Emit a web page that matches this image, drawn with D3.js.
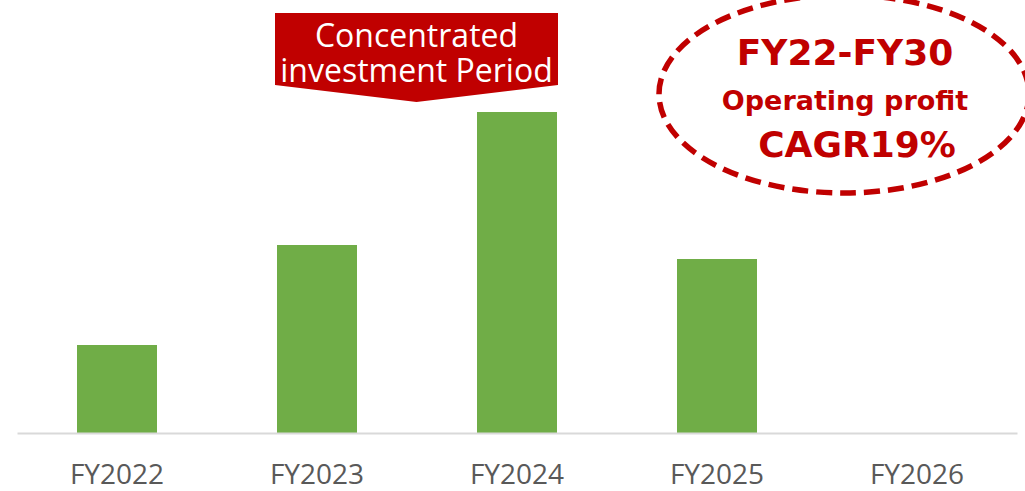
<!DOCTYPE html>
<html>
<head>
<meta charset="utf-8">
<script src="https://cdn.jsdelivr.net/npm/d3@7"></script>
<style>
  html, body { margin: 0; padding: 0; background: #fff; }
  svg { display: block; }
</style>
</head>
<body>
<svg id="chart"></svg>
<script>
// operating profit by fiscal year (relative)
const categories = ["FY2022", "FY2023", "FY2024", "FY2025", "FY2026"]
const profit = [8.8, 18.8, 32.1, 17.4, null]
const bannerLines = ["Concentrated", "investment Period"]
const calloutLines = ["FY22-FY30", "Operating profit", "CAGR19%"]

const width = 1025
const height = 491
const red = "#c00000"

const svg = d3.select("#chart")
  .attr("width", width)
  .attr("height", height)

const x = d3.scaleBand()
  .domain(categories)
  .range([17, 1017])
  .paddingInner(0.6)
  .paddingOuter(0.3)

const y = d3.scaleLinear()
  .domain([0, 43.3])
  .range([433, 0])

// bars
svg.append("g")
  .selectAll("rect")
  .data(categories.map((c, i) => ({ cat: c, v: profit[i] })).filter(d => d.v != null))
  .join("rect")
  .attr("x", d => x(d.cat))
  .attr("y", d => y(d.v))
  .attr("width", x.bandwidth())
  .attr("height", d => y(0) - y(d.v))
  .attr("fill", "#70ad47")

// category axis
const xAxis = svg.append("g")
  .attr("transform", `translate(0,${y(0)})`)
  .call(d3.axisBottom(x).tickSize(0))
xAxis.select(".domain").attr("stroke", "#d9d9d9").attr("stroke-width", 2)
xAxis.selectAll("text")
  .attr("y", 51)
  .attr("dy", null)
  .attr("font-family", "'Open Sans', sans-serif")
  .attr("font-size", 28)
  .attr("fill", "#595959")

// banner arrow over FY2023/FY2024
const bx0 = x("FY2023") - 2, bx1 = x("FY2024") + x.bandwidth() + 1
const bmid = (bx0 + bx1) / 2
svg.append("path")
  .attr("d", d3.line()([[bx0, 13], [bx1, 13], [bx1, 85], [bmid, 102], [bx0, 85]]) + "Z")
  .attr("fill", red)

svg.append("text")
  .attr("text-anchor", "middle")
  .attr("font-family", "'Open Sans', sans-serif")
  .attr("font-size", 32)
  .attr("fill", "#fff")
  .selectAll("tspan")
  .data(bannerLines)
  .join("tspan")
  .attr("x", bmid)
  .attr("y", (d, i) => 47 + i * 35)
  .text(d => d)

// dashed ellipse callout
svg.append("ellipse")
  .attr("cx", 844)
  .attr("cy", 94)
  .attr("rx", 185)
  .attr("ry", 99)
  .attr("fill", "none")
  .attr("stroke", red)
  .attr("stroke-width", 5.5)
  .attr("stroke-dasharray", "16 8")

const calloutStyle = [
  { x: 845, y: 65, size: 36 },
  { x: 845, y: 110, size: 27 },
  { x: 857, y: 157, size: 36 }
]
svg.append("g")
  .selectAll("text")
  .data(calloutLines)
  .join("text")
  .attr("x", (d, i) => calloutStyle[i].x)
  .attr("y", (d, i) => calloutStyle[i].y)
  .attr("text-anchor", "middle")
  .attr("font-family", "'DejaVu Sans', sans-serif")
  .attr("font-weight", "bold")
  .attr("font-size", (d, i) => calloutStyle[i].size)
  .attr("fill", red)
  .text(d => d)
</script>
</body>
</html>
